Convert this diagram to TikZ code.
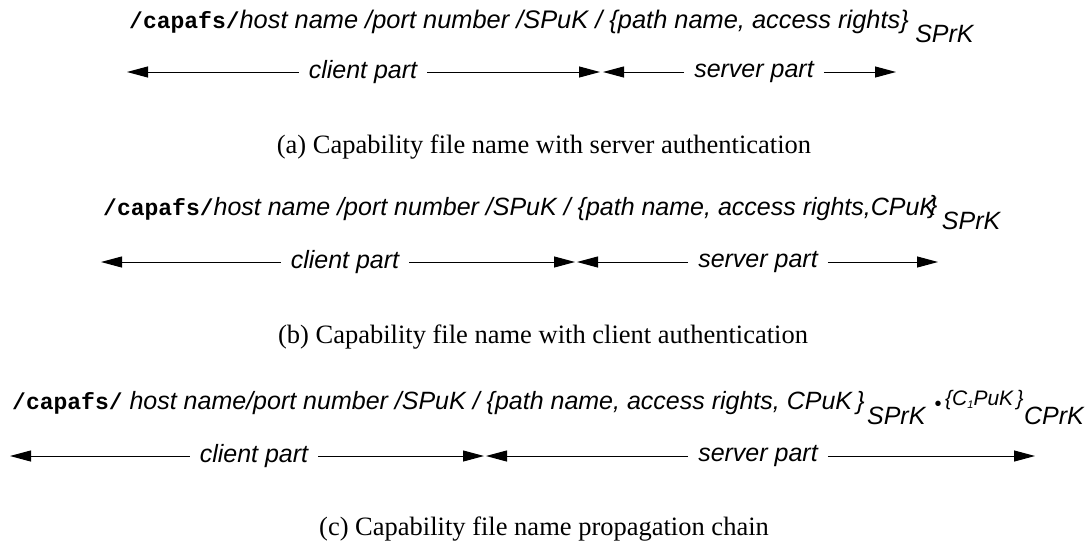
\documentclass[tikz,border=0pt]{standalone}
\usepackage{fontspec}
\setmainfont{Liberation Serif}
\newfontfamily\arialf{Liberation Sans}
\newfontfamily\courf{Liberation Mono}
\usetikzlibrary{arrows.meta}
\tikzset{
  lbltxt/.style={inner sep=0pt, font=\arialf\itshape\fontsize{25}{25}\selectfont},
  subtxt/.style={inner sep=0pt, font=\arialf\itshape\fontsize{25}{25}\selectfont, anchor=base west},
  smalltxt/.style={inner sep=0pt, font=\arialf\itshape\fontsize{21}{21}\selectfont, anchor=base west},
  pathtxt/.style={inner sep=0pt, anchor=base west, font=\arialf\itshape\fontsize{25}{25}\selectfont},
  captxt/.style={inner sep=0pt, anchor=base, font=\fontsize{26.5}{26.5}\selectfont},
  arr/.style={line width=1pt, -{Triangle[length=21pt,width=11pt]}},
  partlbl/.style={lbltxt, anchor=center, inner xsep=10pt}
}
\newcommand{\cpf}{{\courf\upshape\bfseries\fontsize{23}{23}\selectfont /capafs/}}
\begin{document}
\begin{tikzpicture}[x=1pt,y=-1pt]
\useasboundingbox (0,0) rectangle (1091,544);
% ---------- (a)
\node[pathtxt, font=\arialf\itshape\fontsize{25.4}{25.4}\selectfont] (ta) at (129,28) {\cpf host name /port number /SPuK / \{path name, access rights\}};
\node[subtxt] (sa) at ([xshift=6pt,yshift=-14pt]ta.base east) {SPrK};
\coordinate (a1) at (127,72);
\coordinate (a2) at (600,72);
\coordinate (a3) at (603,72);
\coordinate (a4) at (896,72);
\node[partlbl] (ca) at (363,72) {client part};
\node[partlbl] (sva) at (754,72) {server part};
\draw[arr] (ca.west) -- (a1);
\draw[arr] (ca.east) -- (a2);
\draw[arr] (sva.west) -- (a3);
\draw[arr] (sva.east) -- (a4);
\node[captxt] (capa) at (544,153) {(a) Capability file name with server authentication};
% ---------- (b)
\node[pathtxt] (tb) at (103,215) {\cpf host name /port number /SPuK / \{path name, access rights,CPuK\kern-7pt\raisebox{2pt}{\}}};
\node[subtxt] (sb) at ([xshift=4pt,yshift=-14pt]tb.base east) {SPrK};
\coordinate (b1) at (101,262);
\coordinate (b2) at (575,262);
\coordinate (b3) at (577,262);
\coordinate (b4) at (938,262);
\node[partlbl] (cb) at (345,262) {client part};
\node[partlbl] (svb) at (758,262) {server part};
\draw[arr] (cb.west) -- (b1);
\draw[arr] (cb.east) -- (b2);
\draw[arr] (svb.west) -- (b3);
\draw[arr] (svb.east) -- (b4);
\node[captxt] (capb) at (543,343) {(b) Capability file name with client authentication};
% ---------- (c)
\node[pathtxt] (tc) at (12,409) {\cpf{} host name/port number /SPuK / \{path name, access rights, CPuK\,\}};
\node[subtxt] (sc) at ([xshift=2pt,yshift=-15pt]tc.base east) {SPrK};
\node[subtxt, anchor=center, font=\arialf\fontsize{20}{20}\selectfont] (dot) at (938,406) {\textbullet};
\node[smalltxt] (c1) at (945,405) {\{C\raisebox{-3pt}{\fontsize{11}{11}\selectfont 1}PuK\,\}};
\node[subtxt] (sc2) at ([xshift=0pt,yshift=-19pt]c1.base east) {CPrK};
\coordinate (c1a) at (10,456);
\coordinate (c2a) at (484,456);
\coordinate (c3a) at (486,456);
\coordinate (c4a) at (1035,456);
\node[partlbl] (cc) at (254,456) {client part};
\node[partlbl] (svc) at (758,456) {server part};
\draw[arr] (cc.west) -- (c1a);
\draw[arr] (cc.east) -- (c2a);
\draw[arr] (svc.west) -- (c3a);
\draw[arr] (svc.east) -- (c4a);
\node[captxt] (capc) at (544,535) {(c) Capability file name propagation chain};
\end{tikzpicture}
\end{document}
